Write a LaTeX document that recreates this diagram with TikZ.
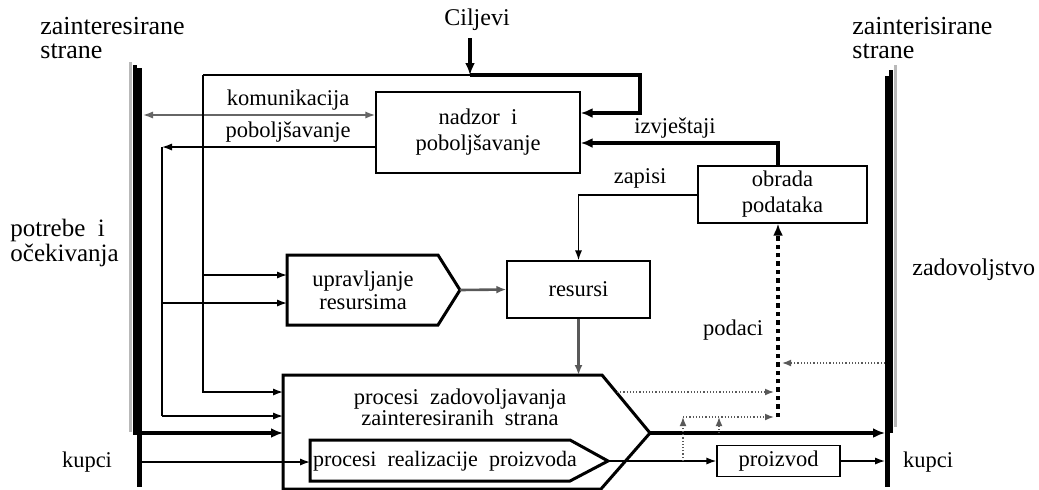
\documentclass[tikz,border=0pt]{standalone}
\usepackage{fontspec}
\setmainfont{Liberation Serif}
\usetikzlibrary{arrows.meta,positioning}

\tikzset{
  box/.style={draw, line width=0.7pt, align=center, inner sep=0pt},
  conn/.style={line width=0.7pt, -{Latex[length=5pt,width=3.6pt]}},
  gconn/.style={line width=0.8pt, gray!80!black, {Latex[length=5pt,width=3.6pt]}-{Latex[length=5pt,width=3.6pt]}},
  heavy/.style={line width=2pt, -{Latex[length=6pt,width=5pt]}},
  dots/.style={densely dotted, line width=0.6pt, gray!70!black, -{Latex[length=4.5pt,width=3.4pt]}},
  outline/.style={line width=1.5pt, line join=miter},
  lbl/.style={inner sep=0pt, align=center},
  side/.style={inner sep=0pt, align=left, anchor=west, font=\fontsize{13}{12}\selectfont},
}

\begin{document}
\begin{tikzpicture}[x=0.5pt, y=-0.5pt, font=\fontsize{11.25}{13}\selectfont]
  \useasboundingbox (0,0) rectangle (1039,489);

  % stakeholder bars
  \draw[gray!55, line width=1.6pt] (130.5,62) -- (130.5,432);
  \draw[line width=2pt] (135,65) -- (135,435);
  \draw[line width=2.5pt] (139.5,68) -- (139.5,487);
  \draw[gray!55, line width=1.6pt] (895.5,65) -- (895.5,427);
  \draw[line width=2pt] (891,70) -- (891,433);
  \draw[line width=2.5pt] (887,76) -- (887,487);
  \coordinate (L) at (142,0);
  \coordinate (R) at (885,0);

  \node[side] (lhead) at (40,38) {zainteresirane\\strane};
  \node[side] (rhead) at (852,38) {zainterisirane\\strane};
  \node[side, font=\fontsize{12.5}{10}\selectfont] (potrebe) at (10,243) {potrebe\ \ i\\očekivanja};
  \node[side, font=\fontsize{12}{13}\selectfont] (zadov) at (912,270) {zadovoljstvo};
  \node[lbl] (kupciL) at (87,462) {kupci};
  \node[lbl] (kupciR) at (928,462) {kupci};

  % boxes
  \node[box, minimum width=102pt, minimum height=40.5pt] (nadzor) at (478,132.5) {nadzor\ \ i\\poboljšavanje};
  \node[box, minimum width=84.5pt, minimum height=28.5pt] (obrada) at (782.5,194.5) {obrada\\podataka};
  \node[box, minimum width=71.5pt, minimum height=28.5pt] (resursi) at (578.5,289.5) {resursi};
  \node[box, minimum width=61.5pt, minimum height=15.5pt] (proizvod) at (778.5,461) {proizvod};

  % process shapes
  \draw[outline] (287,255) coordinate (uprW) -- (438,255) -- (460,290) coordinate (uprTip)
    -- (438,325) -- (287,325) -- cycle;
  \node[lbl, font=\fontsize{11.25}{11.5}\selectfont] (upr) at (363,290) {upravljanje\\resursima};
  \draw[outline] (283,375) coordinate (pzW) -- (602,375) -- (650,433) coordinate (pzTip)
    -- (601,489) -- (283,489) -- cycle;
  \node[lbl, font=\fontsize{11.25}{10.5}\selectfont] (pz) at (460,407) {procesi\ \ zadovoljavanja\\zainteresiranih\ \ strana};
  \draw[outline, fill=white] (310,440) coordinate (rlW) -- (570,440) -- (608,461) coordinate (rlTip)
    -- (570,481) -- (310,481) -- cycle;
  \node[lbl, font=\fontsize{11}{12}\selectfont] (rl) at (445,461) {procesi\ \ realizacije\ \ proizvoda};

  % goals and feedback
  \node[lbl, font=\fontsize{12}{13}\selectfont] (cilj) at (477,20) {Ciljevi};
  \coordinate (cil) at (470,75);
  \coordinate (cilT) at (470,38);
  \coordinate (v1top) at (203,75);
  \draw[heavy] (cilT) -- (cil);
  \draw[heavy] (cil) -- (640,75) -- (640,113) coordinate (cilR) -- (cilR -| nadzor.east);
  \coordinate (izv) at (778,143);
  \draw[heavy] (izv |- obrada.north) -- (izv) -- (izv -| nadzor.east);
  \node[lbl] (izvlbl) at (675,128) {izvještaji};
  \coordinate (zap) at (578.5,195);
  \draw[conn] (zap -| obrada.west) -- (zap) -- (zap |- resursi.north);
  \node[lbl] (zaplbl) at (640,178) {zapisi};

  % left side links
  \coordinate (kom) at (143,115);
  \draw[gconn] (kom) -- (kom -| nadzor.west);
  \node[lbl] (komlbl) at (288,100) {komunikacija};
  \coordinate (v2top) at (162,147);
  \draw[conn] (v2top -| nadzor.west) -- (v2top);
  \node[lbl] (poblbl) at (288,132) {poboljšavanje};
  \coordinate (v1a) at (203,275);
  \coordinate (v1b) at (203,392);
  \coordinate (v2a) at (162,303);
  \coordinate (v2b) at (162,416);
  \draw[line width=0.7pt] (v1top) -- (cil);
  \draw[conn] (v1top) -- (v1b) -- (v1b -| pzW);
  \draw[conn] (v1a) -- (v1a -| uprW);
  \draw[line width=0.7pt] (v2top) -- (v2b);
  \draw[conn] (v2b) -- (v2b -| pzW);
  \draw[conn] (v2a) -- (v2a -| uprW);
  \coordinate (k1) at (142,433);
  \coordinate (k2) at (142,462);
  \draw[heavy] (k1) -- (k1 -| pzW);
  \draw[conn] (k2) -- (k2 -| rlW);

  % resources
  \draw[line width=1.3pt, gray!70!black, -{Latex[length=5pt,width=4pt]}] (uprTip) -- (resursi.west);
  \draw[line width=1.3pt, gray!70!black, -{Latex[length=5pt,width=4pt]}] (resursi.south) -- (resursi.south |- pzW);

  % outputs
  \draw[heavy] (pzTip) -- (pzTip -| R);
  \draw[conn] (rlTip) -- (proizvod.west);
  \draw[conn] (proizvod.east) -- (proizvod.east -| R);

  % data
  \coordinate (pdB) at (778,417);
  \draw[dotted, line width=2.2pt, -{Latex[length=6pt,width=5pt]}] (pdB) -- (obrada.south -| pdB);
  \node[lbl] (podlbl) at (733,330) {podaci};
  \coordinate (a1) at (683,461);
  \coordinate (a2) at (719,433);
  \draw[dots] (a1) -- (a1 |- pdB);
  \draw[dots] (a2) -- (a2 |- pdB);
  \draw[dots, shorten >=2pt] (a1 |- pdB) -- (pdB);
  \coordinate (d3) at (617,392);
  \draw[dots, shorten >=2pt] (d3) -- (d3 -| pdB);
  \coordinate (d4) at (885,363);
  \draw[dots, shorten >=2pt] (d4) -- (d4 -| pdB);
\end{tikzpicture}
\end{document}
